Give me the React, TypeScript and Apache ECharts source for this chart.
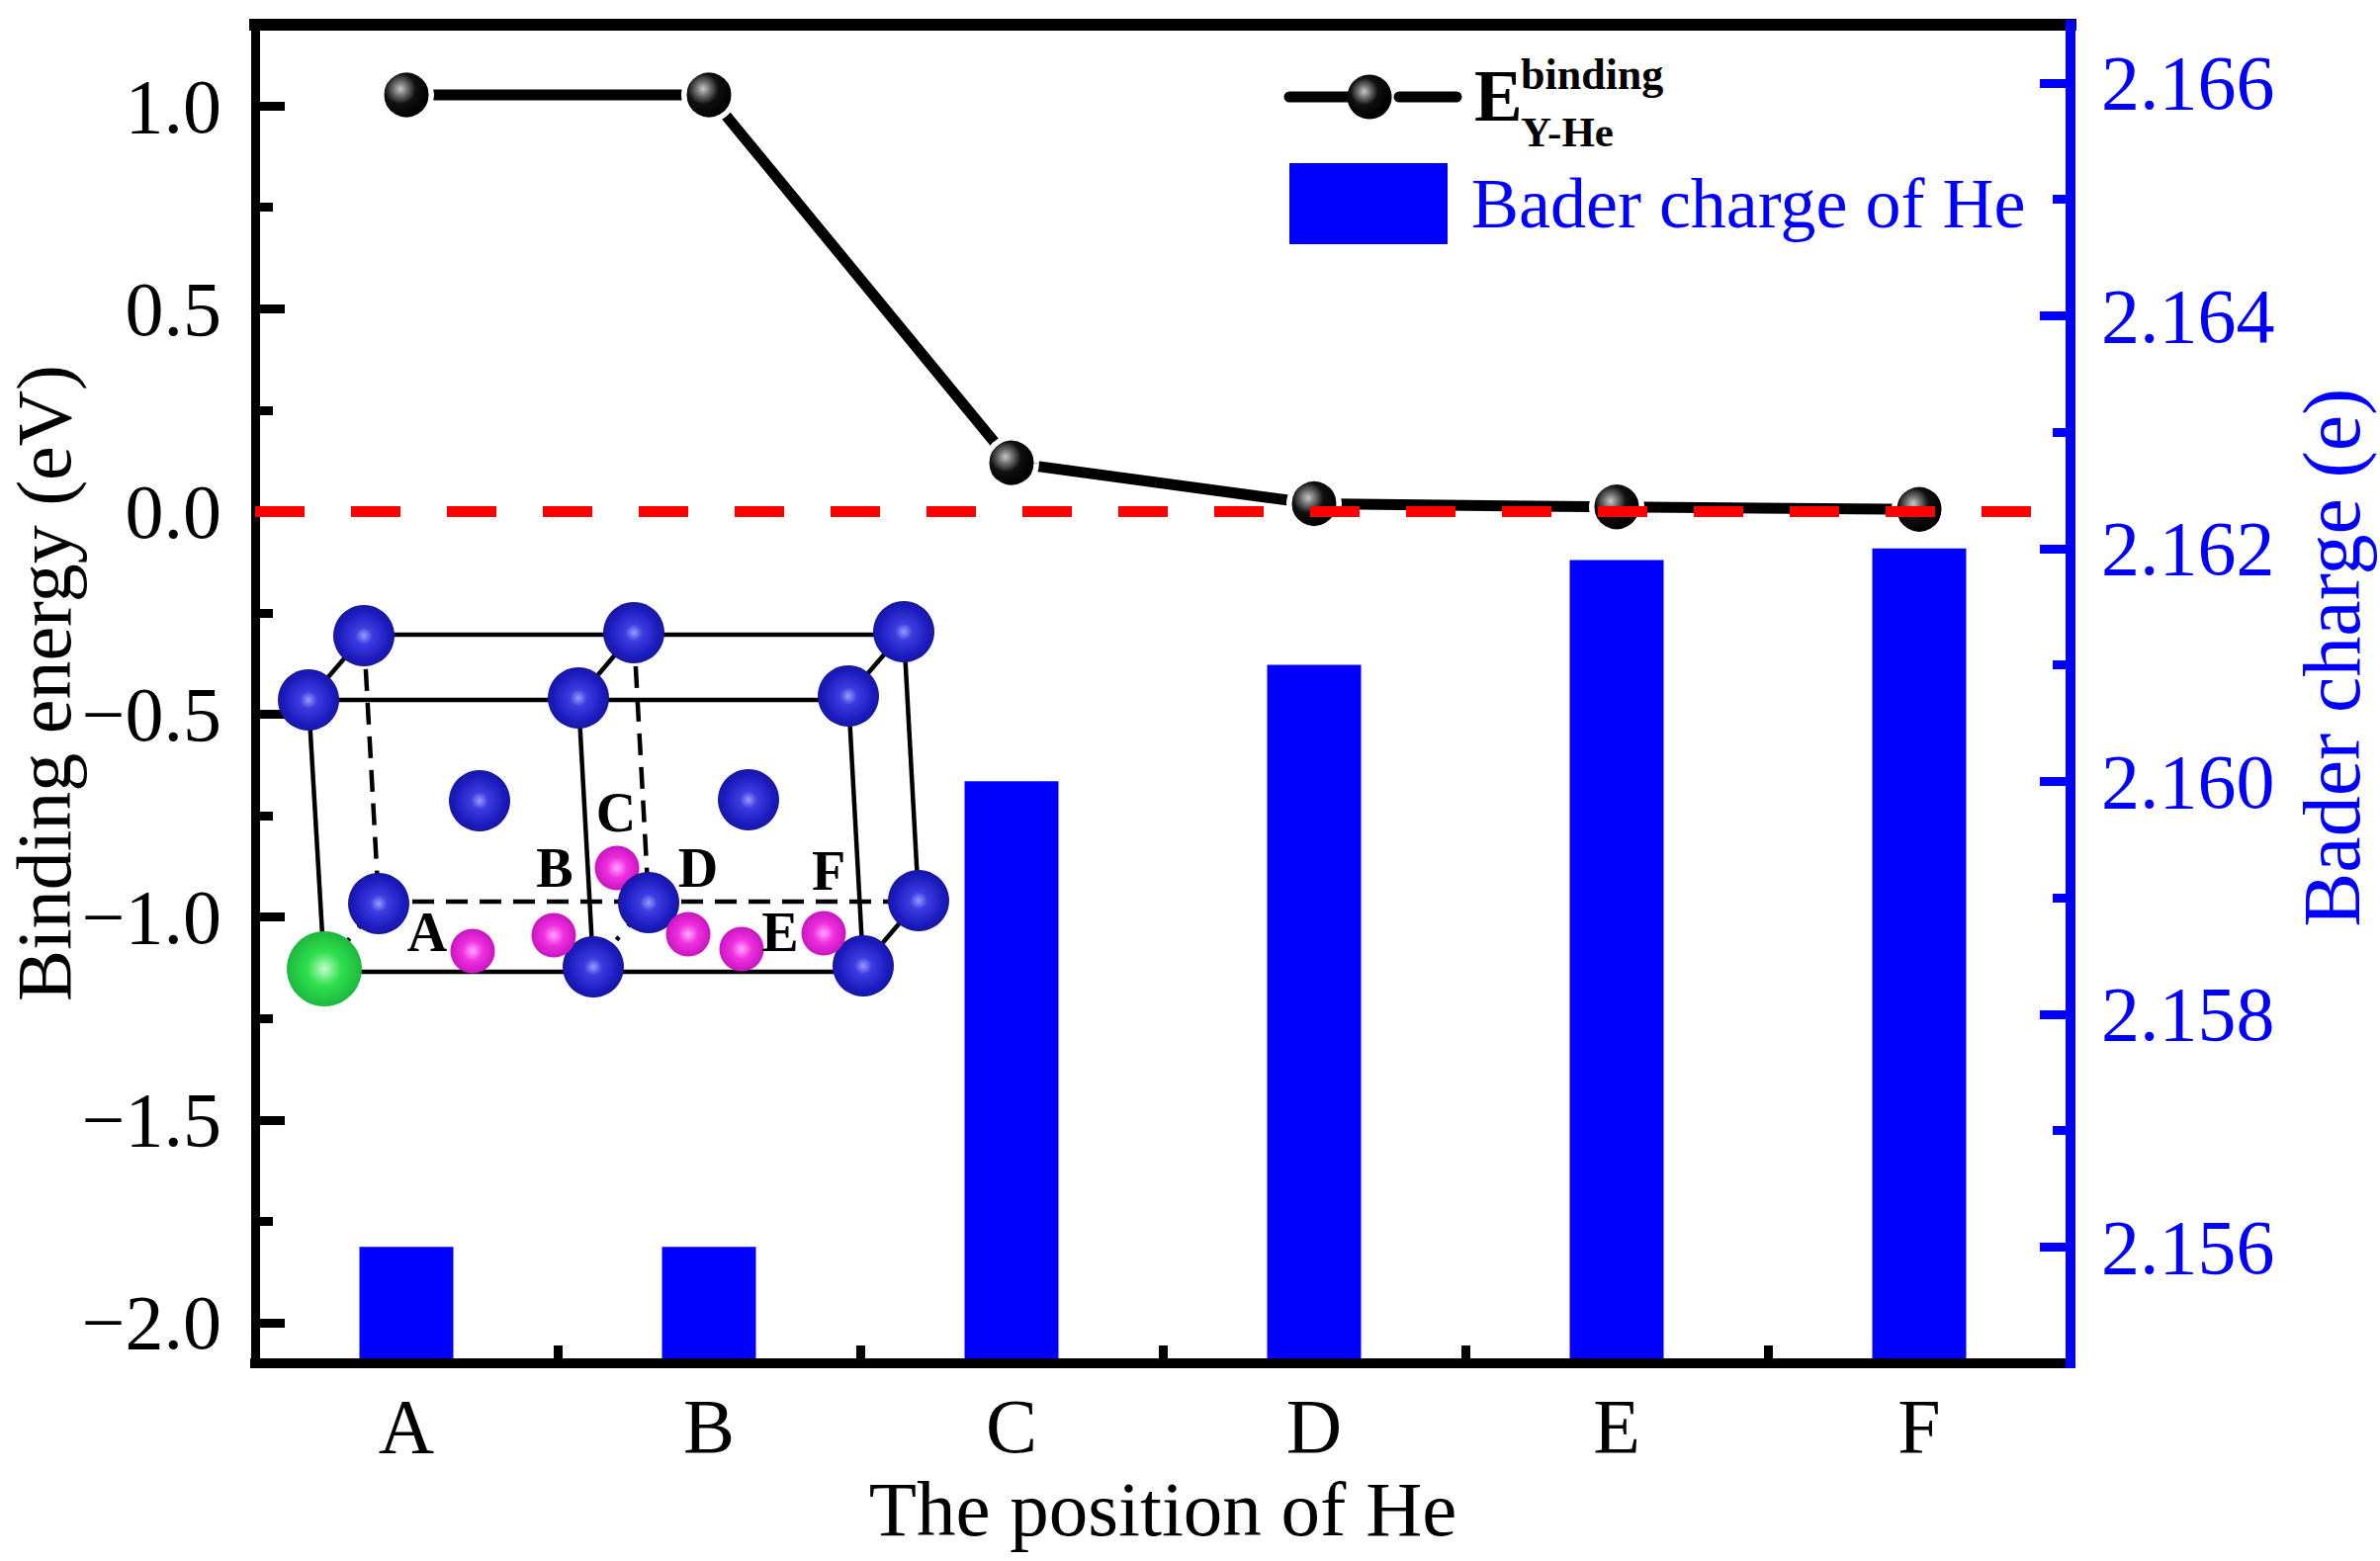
import React, { useEffect, useRef } from "react";
import * as echarts from "echarts";

const positions = ["A", "B", "C", "D", "E", "F"];
const bindingEnergy = [1.027, 1.027, 0.12, 0.019, 0.011, 0.005];
const baderCharge = [2.156, 2.156, 2.16, 2.161, 2.1619, 2.162];
const leftMajor = [-2, -1.5, -1, -0.5, 0, 0.5, 1];
const leftMinor = [-1.75, -1.25, -0.75, -0.25, 0.25, 0.75];
const rightMajor = [2.156, 2.158, 2.16, 2.162, 2.164, 2.166];
const rightMinor = [2.157, 2.159, 2.161, 2.163, 2.165];

// crystal inset (decorative picture, page pixels)
const blueAtoms = [
  [368, 643], [641, 640], [914, 639],
  [485, 810], [757, 809],
  [312, 708], [585, 706], [858, 704],
  [383, 914], [929, 911], [656, 913],
  [600, 978], [873, 977],
];
const magentaAtoms = [[478, 962], [560, 946], [696, 945], [750, 960], [833, 944]];
const magentaBehind = [[624, 878]];
const siteLabels: [string, number, number][] = [
  ["A", 432, 943], ["B", 561, 878], ["C", 623, 822],
  ["D", 706, 878], ["E", 789, 943], ["F", 838, 881],
];
const solidEdges = [
  [368, 642, 914, 642], [312, 708, 858, 708], [328, 983, 873, 983],
  [312, 708, 328, 980], [585, 706, 600, 978], [858, 704, 873, 977], [914, 639, 929, 911],
  [312, 708, 368, 643], [585, 706, 641, 640], [858, 704, 914, 639], [873, 977, 929, 911],
];
const dashedEdges = [
  [383, 912, 929, 912], [368, 643, 383, 914], [641, 640, 656, 913],
];
const dottedEdges = [[328, 980, 383, 914], [600, 978, 656, 913]];

const FONT = "'Liberation Serif', 'Times New Roman', serif";
const BLUE = "#0000ff";

const ball = (cx: number, cy: number, stops: [number, string][]) => ({
  type: "radial", x: cx, y: cy, r: 0.56,
  colorStops: stops.map(([offset, color]) => ({ offset, color })),
});
const blackBall = ball(0.38, 0.38, [[0, "#c8c8c8"], [0.25, "#707070"], [0.55, "#101010"], [1, "#000000"]]);
const blueBall = ball(0.5, 0.5, [[0, "#9a9aff"], [0.25, "#3c3ce0"], [0.7, "#1c1cc0"], [1, "#141490"]]);
const magentaBall = ball(0.5, 0.5, [[0, "#ffa8ff"], [0.4, "#f030e0"], [1, "#c010b8"]]);
const greenBall = ball(0.5, 0.5, [[0, "#c0ffc8"], [0.4, "#30e050"], [1, "#18b038"]]);

const segment = (e: number[], style: any, z = 10) => ({
  type: "line", z, silent: true,
  shape: { x1: e[0], y1: e[1], x2: e[2], y2: e[3] },
  style: { stroke: "#000", lineWidth: 4.5, ...style },
});
const atom = (p: number[], r: number, fill: any, z: number) => ({
  type: "circle", z, silent: true, shape: { cx: p[0], cy: p[1], r }, style: { fill },
});
const txt = (text: string, x: number, y: number, fontSize: number, fill: string, bold = false, align = "left") => ({
  type: "text", z: 14, silent: true, x, y,
  style: {
    text, fontFamily: FONT, fontSize, fontWeight: bold ? "bold" : "normal",
    fill, textAlign: align, textVerticalAlign: "middle",
  },
});

const baseText = { fontFamily: FONT, fontSize: 78, color: "#000" };

export default function App() {
  const ref = useRef<HTMLDivElement>(null);
  useEffect(() => {
    document.body.style.margin = "0";
    const chart = echarts.init(ref.current!, undefined, { renderer: "svg" });
    chart.setOption({
      animation: false,
      backgroundColor: "#ffffff",
      grid: { left: 258, right: 2407 - 2094, top: 25, bottom: 1579 - 1379, containLabel: false, outerBoundsMode: "none" },
      xAxis: [
        {
          type: "category", data: positions, position: "bottom", z: 6,
          name: "The position of He", nameLocation: "middle", nameGap: 108, nameMoveOverlap: false,
          nameTextStyle: { ...baseText, fontSize: 79 },
          axisLine: { onZero: false, lineStyle: { color: "#000", width: 10, cap: "square" } },
          axisTick: { show: true, inside: true, length: 18, alignWithLabel: false, lineStyle: { color: "#000", width: 9 } },
          axisLabel: { ...baseText, margin: 24 },
          splitLine: { show: false },
        },
        {
          type: "category", data: positions, position: "top", z: 6,
          axisLine: { onZero: false, lineStyle: { color: "#000", width: 12, cap: "square" } },
          axisTick: { show: false }, axisLabel: { show: false }, splitLine: { show: false },
        },
      ],
      yAxis: [
        {
          type: "value", min: -2.1, max: 1.2, position: "left", z: 6,
          name: "Binding energy (eV)", nameLocation: "middle", nameGap: 175, nameMoveOverlap: false,
          nameTextStyle: { ...baseText, padding: [0, 0, 0, 22] },
          axisLine: { show: true, onZero: false, lineStyle: { color: "#000", width: 9, cap: "square" } },
          axisTick: { show: true, inside: true, length: 30, customValues: leftMajor, lineStyle: { color: "#000", width: 9 } },
          axisLabel: {
            ...baseText, margin: 34, customValues: leftMajor,
            formatter: (v: number) => (v < 0 ? "\u2212" : "") + Math.abs(v).toFixed(1),
          },
          splitLine: { show: false },
        },
        {
          type: "value", min: 2.155, max: 2.1665, position: "right", z: 7,
          name: "Bader charge (e)", nameLocation: "middle", nameGap: 223, nameRotate: 90, nameMoveOverlap: false,
          nameTextStyle: { ...baseText, fontSize: 82, color: BLUE, padding: [0, 0, 0, 74] },
          axisLine: { show: true, onZero: false, lineStyle: { color: BLUE, width: 10, cap: "square" } },
          axisTick: { show: true, inside: true, length: 31, customValues: rightMajor, lineStyle: { color: BLUE, width: 9 } },
          axisLabel: {
            ...baseText, color: BLUE, margin: 31, customValues: rightMajor,
            formatter: (v: number) => v.toFixed(3),
          },
          splitLine: { show: false },
        },
        {
          type: "value", min: -2.1, max: 1.2, position: "left", z: 6,
          axisLine: { show: false },
          axisTick: { show: true, inside: true, length: 18, customValues: leftMinor, lineStyle: { color: "#000", width: 9 } },
          axisLabel: { show: false }, splitLine: { show: false },
        },
        {
          type: "value", min: 2.155, max: 2.1665, position: "right", z: 7,
          axisLine: { show: false },
          axisTick: { show: true, inside: true, length: 18, customValues: rightMinor, lineStyle: { color: BLUE, width: 9 } },
          axisLabel: { show: false }, splitLine: { show: false },
        },
      ],
      series: [
        {
          name: "Bader charge of He", type: "bar", xAxisIndex: 0, yAxisIndex: 1,
          data: baderCharge, barWidth: 95, z: 3,
          itemStyle: { color: BLUE },
        },
        {
          name: "E binding Y-He", type: "line", xAxisIndex: 0, yAxisIndex: 0,
          data: bindingEnergy, z: 8, symbol: "circle", symbolSize: 50.5,
          lineStyle: { color: "#000", width: 11, cap: "round" },
          itemStyle: { color: blackBall, borderColor: "#fff", borderWidth: 5.5, opacity: 1 },
          markLine: {
            silent: true, symbol: "none", z: 9, animation: false,
            label: { show: false },
            lineStyle: { color: "#ff0000", width: 11, type: [50, 47], cap: "butt" },
            data: [{ yAxis: 0 }],
          },
        },
      ],
      graphic: [
        // legend
        segment([1304, 98, 1363, 98], { lineWidth: 11, lineCap: "round" }),
        segment([1415, 98, 1473, 98], { lineWidth: 11, lineCap: "round" }),
        atom([1385, 98], 22.5, blackBall, 12),
        txt("E", 1491, 97, 73, "#000", true),
        txt("binding", 1538, 75, 44, "#000", true),
        txt("Y-He", 1538, 133, 43, "#000", true),
        { type: "rect", z: 12, silent: true, shape: { x: 1304, y: 165, width: 160, height: 82 }, style: { fill: BLUE } },
        txt("Bader charge of He", 1488, 206, 72, BLUE),
        // inset
        ...solidEdges.map((e) => segment(e, {})),
        ...dashedEdges.map((e) => segment(e, { lineDash: [22, 12] })),
        ...dottedEdges.map((e) => segment(e, { lineDash: [4, 14] })),
        ...magentaBehind.map((p) => atom(p, 22.5, magentaBall, 11)),
        ...blueAtoms.map((p) => atom(p, 31, blueBall, 12)),
        ...magentaAtoms.map((p) => atom(p, 22.5, magentaBall, 13)),
        atom([328, 980], 38, greenBall, 13),
        ...siteLabels.map(([t, x, y]) => txt(t, x, y, 56, "#000", true, "center")),
      ],
    });
    return () => chart.dispose();
  }, []);
  return <div ref={ref} style={{ position: "absolute", left: 0, top: 0, width: 2407, height: 1579 }} />;
}
